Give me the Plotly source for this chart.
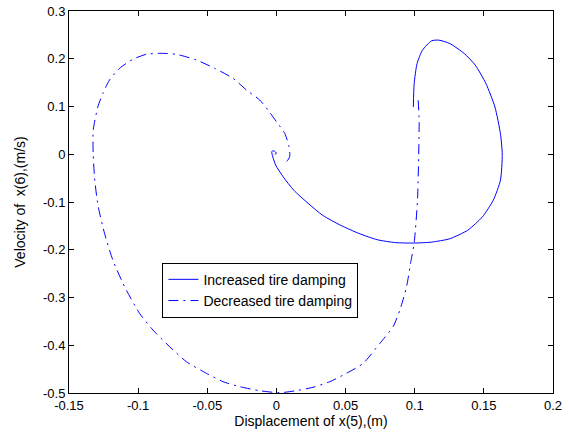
import plotly.graph_objects as go

# Increased tire damping (solid)
inc_x = [0.099, 0.0996, 0.1017, 0.1056, 0.1122, 0.1174, 0.1253, 0.1358, 0.1437, 0.1515, 0.158, 0.162, 0.1633,
         0.162, 0.1568, 0.149, 0.1384, 0.1253, 0.1122, 0.0991, 0.086, 0.0729, 0.0598, 0.0466, 0.0335, 0.023,
         0.0126, 0.0048, -0.0005, -0.0026, -0.0034, -0.0025, -0.0012, 0.0, -0.0012]
inc_y = [0.099, 0.148, 0.19, 0.218, 0.2376, 0.239, 0.232, 0.211, 0.187, 0.148, 0.099, 0.043, 0.0,
         -0.0545, -0.0964, -0.131, -0.159, -0.177, -0.184, -0.186, -0.185, -0.179, -0.166, -0.149, -0.128, -0.103,
         -0.0755, -0.047, -0.023, -0.0056, 0.0053, 0.0074, 0.006, 0.002, -0.0001]

# Decreased tire damping (dash-dot)
dec_x = [0.1025, 0.1032, 0.102, 0.0996, 0.0972, 0.0941, 0.0893, 0.0844, 0.0748, 0.0627, 0.0507, 0.0386,
         0.0265, 0.0145, 0.0024, -0.0121, -0.0264, -0.0386, -0.0507, -0.0651, -0.0772, -0.0893, -0.099,
         -0.1098, -0.1183, -0.1243, -0.1291, -0.1315, -0.1325, -0.1325, -0.1291, -0.1255, -0.1207, -0.1134,
         -0.1038, -0.0941, -0.0833, -0.0724, -0.0579, -0.0447, -0.0314, -0.0217, -0.0121, -0.0061, 0.0,
         0.006, 0.0091, 0.0096, 0.0072, 0.0048]
dec_y = [0.113, 0.0717, -0.0958, -0.1859, -0.225, -0.2775, -0.326, -0.361, -0.396, -0.438, -0.4587, -0.4763,
         -0.488, -0.495, -0.4994, -0.4952, -0.4868, -0.4763, -0.4587, -0.4344, -0.403, -0.3681, -0.3331,
         -0.2774, -0.2215, -0.1656, -0.1063, -0.05, 0.0, 0.05, 0.0996, 0.1276, 0.1555, 0.18,
         0.1989, 0.2093, 0.2114, 0.2093, 0.1974, 0.18, 0.1591, 0.1346, 0.1136, 0.0927, 0.0682,
         0.0439, 0.0158, -0.0051, -0.0156, -0.0168]

x_ticks = [-0.15, -0.1, -0.05, 0, 0.05, 0.1, 0.15, 0.2]
x_labels = ["-0.15", "-0.1", "-0.05", "0", "0.05", "0.1", "0.15", "0.2"]
y_ticks = [-0.5, -0.4, -0.3, -0.2, -0.1, 0, 0.1, 0.2, 0.3]
y_labels = ["-0.5", "-0.4", "-0.3", "-0.2", "-0.1", "0", "0.1", "0.2", "0.3"]

fig = go.Figure()
fig.add_trace(go.Scatter(x=inc_x, y=inc_y, mode="lines", name="Increased tire damping",
                         line=dict(color="#0000ff", width=1, shape="spline", smoothing=0.6)))
fig.add_trace(go.Scatter(x=dec_x, y=dec_y, mode="lines", name="Decreased tire damping",
                         line=dict(color="#0000ff", width=1, dash="10px,5px,2px,5px",
                                   shape="spline", smoothing=0.6)))

font = "Liberation Sans, Arial, sans-serif"
axis_common = dict(showline=True, linecolor="black", linewidth=1, mirror="ticks", ticks="inside",
                   ticklen=5, tickcolor="black", showgrid=False, zeroline=False, automargin=False,
                   tickfont=dict(family=font, size=13, color="black"))

fig.update_layout(
    width=569, height=437,
    margin=dict(l=69, r=16, t=11, b=44),
    paper_bgcolor="white", plot_bgcolor="white",
    font=dict(family=font, size=13, color="black"),
    showlegend=True,
    legend=dict(x=0.193, y=0.341, xanchor="left", yanchor="top", bordercolor="black", borderwidth=1,
                bgcolor="white", font=dict(family=font, size=14, color="black"), tracegroupgap=0),
)
fig.update_xaxes(range=[-0.15, 0.2], tickvals=x_ticks, ticktext=x_labels,
                 title=dict(text="Displacement of x(5),(m)", standoff=2, font=dict(family=font, size=14)),
                 **axis_common)
fig.update_yaxes(range=[-0.5, 0.3], tickvals=y_ticks, ticktext=y_labels,
                 title=dict(text="Velocity of  x(6),(m/s)", standoff=14, font=dict(family=font, size=14)),
                 **axis_common)

fig.write_html("out.html", config={"displayModeBar": False},
               post_script="document.body.style.margin='0';")
